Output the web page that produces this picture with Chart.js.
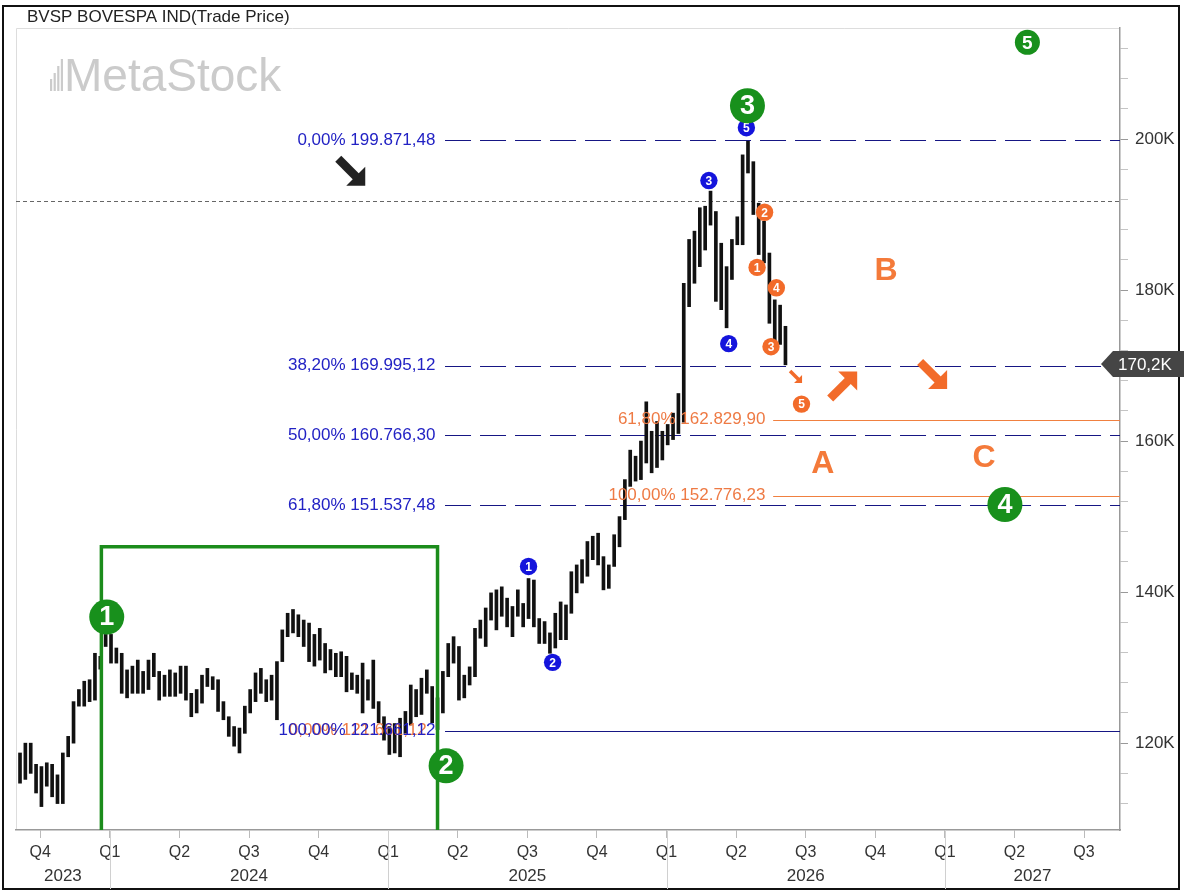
<!DOCTYPE html>
<html lang="en">
<head>
<meta charset="UTF-8">
<title>BVSP BOVESPA IND</title>
<script src="https://cdn.jsdelivr.net/npm/chart.js@4.4.1/dist/chart.umd.min.js"></script>
<style>
  html, body { margin: 0; padding: 0; background: #fff; }
  #wrap { position: relative; width: 1184px; height: 892px; }
</style>
</head>
<body>
<div id="wrap"><canvas id="priceChart"></canvas></div>
<script>
// weekly bars (in thousands of points), index 0 = first week on the chart
const weekHigh = [
  118.7,120.0,120.0,117.2,116.9,117.4,117.2,115.8,118.7,120.9,
  125.5,127.1,128.2,128.4,131.9,131.5,134.4,134.4,132.6,131.9,
  129.7,130.2,131.0,129.5,131.0,131.9,129.5,129.0,129.7,129.3,
  130.2,130.2,126.6,127.1,129.0,129.9,128.8,128.4,125.5,123.5,
  122.2,122.0,124.9,127.1,129.3,129.9,128.4,129.0,130.8,135.0,
  137.2,137.7,137.0,136.3,135.9,134.4,135.2,133.2,132.4,131.9,
  132.1,131.5,129.3,129.0,130.6,128.4,131.0,125.5,123.5,122.2,
  122.6,123.3,124.2,127.7,127.1,128.6,129.7,127.5,126.0,129.5,
  133.2,134.1,132.8,129.0,130.1,135.2,136.3,137.9,139.9,140.3,
  140.7,139.2,138.1,140.3,138.5,141.8,141.6,136.5,136.1,134.6,
  137.2,138.7,138.3,142.7,143.6,144.3,146.7,147.4,147.8,144.7,
  143.6,147.6,150.0,154.9,158.8,158.0,160.0,165.2,161.3,162.6,
  161.3,162.2,163.7,166.3,180.9,186.7,187.8,190.9,191.1,193.1,
  190.4,186.2,183.1,186.7,189.7,197.9,199.7,197.0,191.5,189.1,
  184.9,178.7,178.0,175.2
];
const weekLow = [
  114.7,115.2,116.0,113.4,111.6,114.3,112.9,112.0,112.0,118.2,
  120.0,124.9,124.9,125.5,125.7,129.8,132.8,130.6,130.6,126.6,
  126.0,126.6,126.6,126.6,127.1,128.8,125.7,126.2,126.2,126.2,
  126.6,125.7,123.5,124.0,125.3,127.5,127.1,124.2,123.1,120.9,
  119.6,118.7,121.3,124.0,125.5,126.6,125.5,125.7,123.1,130.8,
  134.1,134.6,134.1,132.8,130.8,130.2,131.0,129.3,129.7,128.8,
  128.8,126.8,127.1,126.6,124.0,125.7,124.6,122.7,120.4,118.5,
  118.7,118.2,121.3,122.4,123.5,123.8,126.6,122.7,121.8,124.0,
  128.8,130.6,125.7,126.0,127.7,128.8,133.9,132.8,136.3,135.0,
  136.8,135.4,134.1,136.8,135.4,136.5,135.4,133.2,133.2,131.9,
  132.6,133.7,133.7,137.2,139.9,141.2,142.1,144.3,143.6,140.3,
  140.5,143.4,146.0,149.6,154.0,154.7,154.9,157.1,155.8,156.5,
  157.5,159.5,160.2,161.0,162.5,177.8,180.9,183.1,185.3,188.6,
  178.5,177.4,175.0,181.4,186.0,186.0,195.5,190.0,184.7,183.6,
  175.6,172.8,172.8,170.1
];
const lastPrice = 170.2;

// time axis: quarters, starting with Q4 2023
const quarterLabels = ['Q4','Q1','Q2','Q3','Q4','Q1','Q2','Q3','Q4','Q1','Q2','Q3','Q4','Q1','Q2','Q3'];
const firstQuarterWeek = 3.78;
const weeksPerQuarter = 13;
const yearLabels = ['2023','2024','2025','2026','2027'];
const priceTicks = [112,116,120,124,128,132,136,140,144,148,152,156,160,164,168,172,176,180,184,188,192,196,200,204,208,212];

// fibonacci retracement (blue) and projection (orange)
const fibBluePct = ['0,00%','38,20%','50,00%','61,80%','100,00%'];
const fibBlueVal = [199.87148, 169.99512, 160.76630, 151.53748, 121.66112];
const fibOrangePct = ['61,80%','100,00%'];
const fibOrangeVal = [162.82990, 152.77623];
const fibOrangeLowPct = '0,00%';
const fibOrangeLowVal = 121.66112;
const resistanceLevel = 191.8;

// wave counts: [week, price, label]
const primaryWaves = [[16.2,136.7,'1'],[79.6,117.0,'2'],[135.9,204.4,'3'],[184.0,151.6,'4'],[188.2,212.8,'5']];
const blueWaves = [[95.0,143.4,'1'],[99.5,130.7,'2'],[128.7,194.5,'3'],[132.4,172.9,'4'],[135.7,201.5,'5']];
const orangeWaves = [[137.7,183.0,'1'],[139.1,190.3,'2'],[140.3,172.5,'3'],[141.3,180.3,'4'],[146.0,164.9,'5']];
const correctionLetters = [[150.0,157.0,'A'],[161.8,182.5,'B'],[180.1,157.7,'C']];
// arrows: [tip week, tip price, direction, kind]
const arrows = [[64.5,193.8,'dr','black'],[146.1,167.7,'dr','small'],[156.4,169.2,'ur','big'],[173.2,166.9,'dr','big']];
// wave 1-2 box: [from week, to week, top price]
const waveBox = [15.2, 78.0, 146.0];

const FONT = '"Liberation Sans", Arial, sans-serif';
Chart.defaults.font.family = FONT;

function fmtBR(v) {
  const s = (v * 1000).toFixed(2);
  const [ip, dp] = s.split('.');
  return ip.replace(/\B(?=(\d{3})+(?!\d))/g, '.') + ',' + dp;
}

function badge(ctx, x, y, r, fill, text, size) {
  ctx.beginPath();
  ctx.arc(x, y, r, 0, Math.PI * 2);
  ctx.fillStyle = fill;
  ctx.fill();
  ctx.fillStyle = '#fff';
  ctx.font = 'bold ' + size + 'px ' + FONT;
  ctx.textAlign = 'center';
  ctx.textBaseline = 'middle';
  ctx.fillText(text, x, y + 1);
}

function blockArrow(ctx, tx, ty, sx, sy, len, head, width, color) {
  ctx.fillStyle = color;
  ctx.strokeStyle = color;
  ctx.beginPath();
  ctx.moveTo(tx, ty);
  ctx.lineTo(tx - sx * head, ty);
  ctx.lineTo(tx, ty - sy * head);
  ctx.closePath();
  ctx.fill();
  ctx.lineWidth = width;
  ctx.lineCap = 'butt';
  ctx.beginPath();
  ctx.moveTo(tx - sx * len, ty - sy * len);
  ctx.lineTo(tx - sx * head * 0.4, ty - sy * head * 0.4);
  ctx.stroke();
}

const overlay = {
  id: 'overlay',
  beforeDraw(chart) {
    const { ctx, chartArea: a } = chart;
    ctx.save();
    ctx.fillStyle = '#fff';
    ctx.fillRect(0, 0, chart.width, chart.height);
    // outer frame
    ctx.strokeStyle = '#111';
    ctx.lineWidth = 2;
    ctx.strokeRect(3, 6, 1176, 883);
    // plot frame (top / left)
    ctx.strokeStyle = '#ddd';
    ctx.lineWidth = 1;
    ctx.beginPath();
    ctx.moveTo(a.left + 0.5, a.bottom);
    ctx.lineTo(a.left + 0.5, a.top + 0.5);
    ctx.lineTo(a.right, a.top + 0.5);
    ctx.stroke();
    // title
    ctx.fillStyle = '#222';
    ctx.font = '17px ' + FONT;
    ctx.textAlign = 'left';
    ctx.textBaseline = 'middle';
    ctx.fillText('BVSP BOVESPA IND(Trade Price)', 27, 17);
    // watermark
    ctx.fillStyle = '#cbcbcb';
    ctx.font = '46px ' + FONT;
    ctx.textBaseline = 'alphabetic';
    ctx.fillText('MetaStock', 64, 91);
    [12, 18, 25, 32].forEach((h, k) => ctx.fillRect(50 + k * 3.6, 91 - h, 2.2, h));
    ctx.restore();
  },
  beforeDatasetsDraw(chart) {
    const { ctx, chartArea: a, scales: { x, y } } = chart;
    ctx.save();
    ctx.beginPath();
    ctx.rect(a.left, a.top, a.right - a.left, a.bottom - a.top);
    ctx.clip();
    // resistance dotted line
    ctx.strokeStyle = '#666';
    ctx.lineWidth = 1;
    ctx.setLineDash([4, 3]);
    let py = Math.round(y.getPixelForValue(resistanceLevel)) + 0.5;
    ctx.beginPath(); ctx.moveTo(a.left, py); ctx.lineTo(a.right, py); ctx.stroke();
    // orange projection lines
    ctx.setLineDash([]);
    ctx.strokeStyle = '#f08040';
    fibOrangeVal.forEach(v => {
      py = Math.round(y.getPixelForValue(v)) + 0.5;
      ctx.beginPath(); ctx.moveTo(x.getPixelForValue(140.7), py); ctx.lineTo(a.right, py); ctx.stroke();
    });
    // blue retracement lines
    ctx.strokeStyle = '#161684';
    ctx.lineWidth = 1.2;
    fibBlueVal.forEach((v, k) => {
      py = Math.round(y.getPixelForValue(v)) + 0.5;
      ctx.setLineDash(k === fibBlueVal.length - 1 ? [] : [26, 9]);
      ctx.beginPath(); ctx.moveTo(x.getPixelForValue(79.4), py); ctx.lineTo(a.right, py); ctx.stroke();
    });
    ctx.restore();
  },
  afterDatasetsDraw(chart) {
    const { ctx, chartArea: a, scales: { x, y } } = chart;
    ctx.save();
    // fib labels
    ctx.font = '17px ' + FONT;
    ctx.textAlign = 'right';
    ctx.textBaseline = 'middle';
    ctx.fillStyle = '#ee7a44';
    ctx.fillText(fibOrangeLowPct + ' ' + fmtBR(fibOrangeLowVal), x.getPixelForValue(76.0), y.getPixelForValue(fibOrangeLowVal));
    fibOrangeVal.forEach((v, k) => {
      ctx.fillText(fibOrangePct[k] + ' ' + fmtBR(v), x.getPixelForValue(139.25), y.getPixelForValue(v));
    });
    ctx.fillStyle = '#2222c4';
    fibBlueVal.forEach((v, k) => {
      ctx.fillText(fibBluePct[k] + ' ' + fmtBR(v), x.getPixelForValue(77.6), y.getPixelForValue(v));
    });

    // wave 1-2 box
    ctx.save();
    ctx.beginPath();
    ctx.rect(a.left, a.top, a.right - a.left, a.bottom - a.top);
    ctx.clip();
    ctx.strokeStyle = '#1c8c1c';
    ctx.lineWidth = 3.5;
    const bl = x.getPixelForValue(waveBox[0]);
    const br = x.getPixelForValue(waveBox[1]);
    const bt = y.getPixelForValue(waveBox[2]);
    ctx.beginPath();
    ctx.moveTo(bl, a.bottom + 4); ctx.lineTo(bl, bt); ctx.lineTo(br, bt); ctx.lineTo(br, a.bottom + 4);
    ctx.stroke();
    ctx.restore();

    // arrows
    arrows.forEach(([w, p, dir, kind]) => {
      const tx = x.getPixelForValue(w), ty = y.getPixelForValue(p);
      const sy = dir === 'dr' ? 1 : -1;
      if (kind === 'small') blockArrow(ctx, tx, ty, 1, sy, 12, 8, 3.5, '#f26b2a');
      else blockArrow(ctx, tx, ty, 1, sy, 27, 19, 8.5, kind === 'black' ? '#222' : '#f26b2a');
    });

    // wave count badges
    blueWaves.forEach(([w, p, t]) => badge(ctx, x.getPixelForValue(w), y.getPixelForValue(p), 8.7, '#1414dc', t, 12));
    orangeWaves.forEach(([w, p, t]) => badge(ctx, x.getPixelForValue(w), y.getPixelForValue(p), 8.7, '#f26b2a', t, 12));
    primaryWaves.forEach(([w, p, t], k) => {
      const small = k === primaryWaves.length - 1;
      badge(ctx, x.getPixelForValue(w), y.getPixelForValue(p), small ? 12.5 : 17.5, '#18901c', t, small ? 19 : 27);
    });

    // correction letters
    ctx.fillStyle = '#f47a3a';
    ctx.font = 'bold 32px ' + FONT;
    ctx.textAlign = 'center';
    ctx.textBaseline = 'middle';
    correctionLetters.forEach(([w, p, t]) => ctx.fillText(t, x.getPixelForValue(w), y.getPixelForValue(p)));

    // last price tag
    const ly = y.getPixelForValue(lastPrice);
    ctx.fillStyle = '#454545';
    ctx.beginPath();
    ctx.moveTo(a.right - 19, ly);
    ctx.lineTo(a.right - 7, ly - 13);
    ctx.lineTo(1184, ly - 13);
    ctx.lineTo(1184, ly + 13);
    ctx.lineTo(a.right - 7, ly + 13);
    ctx.closePath();
    ctx.fill();
    ctx.fillStyle = '#fff';
    ctx.font = '17px ' + FONT;
    ctx.textAlign = 'left';
    ctx.fillText(lastPrice.toFixed(1).replace('.', ',') + 'K', a.right - 2, ly + 1);

    // year separators and labels
    const q1 = quarterLabels.map((q, k) => q === 'Q1' ? x.getPixelForValue(firstQuarterWeek + k * weeksPerQuarter) : null).filter(v => v !== null);
    ctx.strokeStyle = '#d0d0d0';
    ctx.lineWidth = 1;
    q1.forEach(px => {
      ctx.beginPath(); ctx.moveTo(Math.round(px) + 0.5, a.bottom); ctx.lineTo(Math.round(px) + 0.5, 889); ctx.stroke();
    });
    const edges = [a.left, ...q1, a.right];
    ctx.fillStyle = '#333';
    ctx.font = '17px ' + FONT;
    ctx.textAlign = 'center';
    yearLabels.forEach((t, k) => ctx.fillText(t, (edges[k] + edges[k + 1]) / 2, 876));
    ctx.restore();
  }
};

new Chart(document.getElementById('priceChart'), {
  type: 'bar',
  data: {
    datasets: [{
      label: 'BVSP',
      data: weekHigh.map((h, i) => ({ x: i, y: [weekLow[i], h] })),
      backgroundColor: '#111',
      borderWidth: 0,
      barThickness: 3,
      grouped: false
    }]
  },
  options: {
    responsive: true,
    maintainAspectRatio: false,
    animation: false,
    layout: { padding: { left: 16, top: 28, right: 0, bottom: 0 } },
    plugins: { legend: { display: false }, tooltip: { enabled: false } },
    scales: {
      x: {
        type: 'linear',
        min: -0.75,
        max: 205.5,
        offset: false,
        afterBuildTicks: s => { s.ticks = quarterLabels.map((q, k) => ({ value: firstQuarterWeek + k * weeksPerQuarter })); },
        afterFit: s => { s.height = 62; },
        grid: { offset: false, drawOnChartArea: false, drawTicks: true, tickLength: 8, color: '#bbb' },
        border: { color: '#999', width: 1.5 },
        ticks: {
          autoSkip: false, maxRotation: 0, padding: 5,
          color: '#333', font: { size: 16 },
          callback: (v, idx) => quarterLabels[idx]
        }
      },
      y: {
        type: 'linear',
        position: 'right',
        min: 108.5,
        max: 214.7,
        afterBuildTicks: s => { s.ticks = priceTicks.map(v => ({ value: v })); },
        afterFit: s => { s.width = 64; },
        grid: {
          drawOnChartArea: false, drawTicks: true, tickLength: 8,
          color: c => (c.tick && c.tick.value % 20 === 0) ? '#999' : '#c4c4c4'
        },
        border: { color: '#999', width: 1.5 },
        ticks: {
          padding: 7, color: '#333', font: { size: 17 },
          callback: v => v % 20 === 0 ? v + 'K' : ''
        }
      }
    }
  },
  plugins: [overlay]
});
</script>
</body>
</html>
